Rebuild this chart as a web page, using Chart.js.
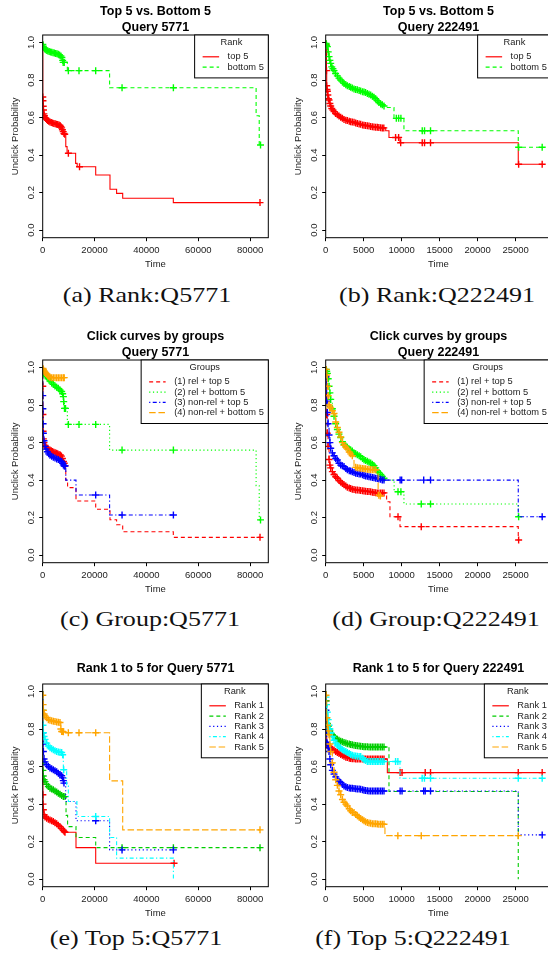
<!DOCTYPE html>
<html><head><meta charset="utf-8">
<script src="https://cdn.jsdelivr.net/npm/chart.js@4"></script>
<style>
html,body{margin:0;padding:0;background:#fff;}
body{width:548px;height:963px;overflow:hidden;position:relative;}
canvas{position:absolute;}
.cap{position:absolute;white-space:nowrap;font-family:"Liberation Serif",serif;font-size:21.5px;line-height:1;color:#111;transform:translateX(-50%) scaleX(1.21);}
</style></head><body>
<canvas id="pa" width="274" height="272" style="left:0;top:0;width:274px;height:272px"></canvas>
<canvas id="pb" width="300" height="272" style="left:274px;top:0;width:300px;height:272px"></canvas>
<canvas id="pc" width="274" height="272" style="left:0;top:325px;width:274px;height:272px"></canvas>
<canvas id="pd" width="300" height="272" style="left:274px;top:325px;width:300px;height:272px"></canvas>
<canvas id="pe" width="274" height="272" style="left:0;top:649px;width:274px;height:272px"></canvas>
<canvas id="pf" width="300" height="272" style="left:274px;top:649px;width:300px;height:272px"></canvas>
<div class="cap" style="left:147px;top:285px">(a) Rank:Q5771</div>
<div class="cap" style="left:437px;top:285px">(b) Rank:Q222491</div>
<div class="cap" style="left:150px;top:609px">(c) Group:Q5771</div>
<div class="cap" style="left:436px;top:609px">(d) Group:Q222491</div>
<div class="cap" style="left:136px;top:928px">(e) Top 5:Q5771</div>
<div class="cap" style="left:413px;top:928px">(f) Top 5:Q222491</div>
<script>
// ---------- tick labels ----------
const xTicks5771 = [0, 20000, 40000, 60000, 80000];
const xTicks222491 = [0, 5000, 10000, 15000, 20000, 25000];
const yTicks = [0, 0.2, 0.4, 0.6, 0.8, 1.0];

// ---------- titles / legends ----------
const titleA = ['Top 5 vs. Bottom 5', 'Query 5771'];
const titleB = ['Top 5 vs. Bottom 5', 'Query 222491'];
const titleC = ['Click curves by groups', 'Query 5771'];
const titleD = ['Click curves by groups', 'Query 222491'];
const titleE = 'Rank 1 to 5 for Query 5771';
const titleF = 'Rank 1 to 5 for Query 222491';
const twoLabels = ['top 5', 'bottom 5'];
const groupLabels = ['(1) rel + top 5', '(2) rel + bottom 5', '(3) non-rel + top 5', '(4) non-rel + bottom 5'];
const rankLabels = ['Rank 1', 'Rank 2', 'Rank 3', 'Rank 4', 'Rank 5'];

// ---------- survival series: [time, unclick probability, censored(1/0)] ----------
const a_top5 = [[0,1,0],[30,0.71,1],[100,0.69,1],[200,0.66,1],[300,0.64,1],[450,0.62,1],[650,0.61,1],[900,0.60,1],[1200,0.595,1],[1540,0.59,1],[1900,0.585,1],[2300,0.58,1],[2800,0.577,1],[3300,0.574,1],[3800,0.571,1],[4300,0.569,1],[4800,0.567,1],[5300,0.565,1],[5800,0.563,1],[6300,0.561,1],[6700,0.558,1],[7000,0.552,1],[7300,0.545,1],[7600,0.535,1],[7900,0.525,1],[8200,0.515,1],[8500,0.511,1],[8900,0.445,0],[9400,0.41,0],[9900,0.41,1],[12700,0.356,0],[13300,0.338,0],[14200,0.338,1],[20440,0.294,0],[25950,0.218,0],[28500,0.196,0],[30850,0.17,0],[50370,0.147,0],[83800,0.147,1]];
const a_bot5 = [[0,1,0],[50,0.99,1],[200,0.98,1],[450,0.972,1],[800,0.966,1],[1200,0.962,1],[1600,0.958,1],[2000,0.955,1],[2500,0.952,1],[3000,0.95,1],[3500,0.948,1],[4000,0.946,1],[4500,0.944,1],[5000,0.942,1],[5500,0.94,1],[6000,0.938,1],[6500,0.934,1],[7000,0.928,1],[7400,0.92,1],[7700,0.905,1],[7900,0.894,1],[8300,0.894,1],[9500,0.85,0],[9900,0.85,1],[14000,0.85,1],[20430,0.85,1],[25800,0.759,0],[30600,0.759,1],[50400,0.759,1],[82300,0.61,0],[83500,0.454,0],[84000,0.454,1]];

const b_top5 = [[0,1,0],[30,0.99,1],[60,0.95,1],[100,0.85,1],[130,0.77,1],[170,0.75,1],[219,0.74,1],[280,0.72,1],[350,0.70,1],[439,0.694,1],[550,0.675,1],[658,0.662,1],[800,0.648,1],[950,0.64,1],[1096,0.632,1],[1300,0.622,1],[1535,0.615,1],[1750,0.608,1],[1974,0.602,1],[2200,0.596,1],[2412,0.59,1],[2650,0.586,1],[2851,0.585,1],[3100,0.58,1],[3290,0.578,1],[3500,0.576,1],[3728,0.575,1],[3950,0.571,1],[4167,0.568,1],[4400,0.566,1],[4605,0.564,1],[4850,0.561,1],[5044,0.559,1],[5250,0.558,1],[5482,0.557,1],[5700,0.555,1],[5921,0.553,1],[6150,0.551,1],[6360,0.55,1],[6580,0.549,1],[6798,0.548,1],[7000,0.547,1],[7237,0.546,1],[7450,0.545,1],[7650,0.545,1],[7900,0.53,0],[8330,0.494,0],[9200,0.494,1],[9600,0.494,1],[9780,0.466,0],[9870,0.466,1],[12710,0.466,1],[13010,0.466,1],[13800,0.466,1],[25350,0.351,0],[25400,0.351,1],[28500,0.351,1]];
const b_bot5 = [[0,1,0],[50,0.995,1],[120,0.985,1],[219,0.978,1],[330,0.95,1],[439,0.925,1],[550,0.905,1],[658,0.889,1],[800,0.87,1],[950,0.86,1],[1096,0.85,1],[1300,0.835,1],[1535,0.822,1],[1750,0.81,1],[1974,0.80,1],[2200,0.79,1],[2412,0.782,1],[2650,0.775,1],[2851,0.77,1],[3100,0.765,1],[3290,0.762,1],[3500,0.757,1],[3728,0.752,1],[3950,0.75,1],[4167,0.748,1],[4400,0.744,1],[4605,0.741,1],[4850,0.738,1],[5044,0.736,1],[5250,0.733,1],[5482,0.728,1],[5700,0.724,1],[5921,0.72,1],[6150,0.714,1],[6360,0.708,1],[6580,0.70,1],[6798,0.69,1],[7000,0.68,1],[7237,0.673,1],[7450,0.668,1],[7675,0.662,1],[7800,0.654,0],[8990,0.596,0],[9300,0.596,1],[9600,0.596,1],[9900,0.596,1],[10300,0.53,0],[12710,0.53,1],[13010,0.53,1],[13800,0.53,1],[25350,0.442,0],[25400,0.442,1],[28500,0.442,1]];

const c_g1 = [[0,1,0],[30,0.9,1],[80,0.75,1],[150,0.66,1],[257,0.62,1],[500,0.6,1],[900,0.585,1],[1300,0.576,1],[1700,0.57,1],[2200,0.565,1],[2800,0.56,1],[3300,0.556,1],[3800,0.552,1],[4300,0.549,1],[4800,0.546,1],[5300,0.543,1],[5800,0.54,1],[6300,0.537,1],[6800,0.534,1],[7200,0.528,1],[7600,0.515,1],[8000,0.5,1],[8300,0.49,1],[8600,0.477,1],[8900,0.40,0],[9600,0.36,0],[12840,0.289,0],[20440,0.245,0],[25950,0.189,0],[28500,0.162,0],[30850,0.125,0],[50370,0.095,0],[83800,0.095,1]];
const c_g2 = [[0,1,0],[60,0.985,1],[257,0.975,1],[600,0.968,1],[1000,0.96,1],[1540,0.951,1],[2100,0.94,1],[2800,0.928,1],[3460,0.918,1],[4100,0.91,1],[4740,0.902,1],[5390,0.895,1],[6030,0.889,1],[6670,0.88,1],[7315,0.872,1],[7700,0.86,1],[7960,0.845,1],[8100,0.818,1],[8400,0.782,1],[8800,0.782,1],[9500,0.697,0],[9890,0.697,1],[14000,0.697,1],[20430,0.697,1],[25800,0.56,0],[30600,0.56,1],[50400,0.56,1],[82300,0.37,0],[83500,0.188,0],[84000,0.188,1]];
const c_g3 = [[0,1,0],[20,0.85,1],[60,0.78,1],[150,0.70,1],[257,0.65,1],[500,0.61,1],[900,0.58,1],[1300,0.565,1],[1800,0.551,1],[2300,0.54,1],[2815,0.533,1],[3460,0.527,1],[4100,0.522,1],[4740,0.518,1],[5390,0.513,1],[6030,0.51,1],[6670,0.505,1],[7315,0.499,1],[7700,0.49,1],[7960,0.481,1],[8300,0.475,1],[8600,0.475,1],[8900,0.40,0],[12840,0.321,0],[20430,0.321,1],[25800,0.214,0],[30600,0.214,1],[50400,0.214,1]];
const c_g4 = [[0,1,0],[100,0.995,1],[257,0.99,1],[600,0.98,1],[900,0.975,1],[1200,0.97,1],[1540,0.965,1],[1900,0.958,1],[2200,0.953,1],[2600,0.95,1],[2815,0.948,1],[3460,0.946,1],[4100,0.946,1],[4740,0.946,1],[5390,0.946,1],[6030,0.946,1],[6670,0.946,1],[7315,0.946,1],[7960,0.946,1],[8300,0.946,1]];

const d_g1 = [[0,1,0],[30,0.95,1],[80,0.85,1],[132,0.75,1],[200,0.65,1],[307,0.58,1],[439,0.51,1],[550,0.48,1],[658,0.465,1],[877,0.445,1],[1096,0.43,1],[1316,0.418,1],[1535,0.41,1],[1750,0.398,1],[1974,0.39,1],[2200,0.382,1],[2412,0.375,1],[2650,0.368,1],[2851,0.362,1],[3100,0.358,1],[3290,0.356,1],[3500,0.352,1],[3728,0.35,1],[3950,0.348,1],[4167,0.347,1],[4400,0.346,1],[4605,0.345,1],[4850,0.343,1],[5044,0.342,1],[5250,0.341,1],[5482,0.34,1],[5700,0.339,1],[5921,0.338,1],[6150,0.336,1],[6360,0.334,1],[6580,0.333,1],[6798,0.332,1],[7000,0.332,1],[7237,0.332,1],[7450,0.332,1],[7675,0.332,1],[8020,0.285,0],[8460,0.205,0],[9520,0.205,1],[9780,0.152,0],[12580,0.152,1],[25350,0.081,0],[25400,0.081,1]];
const d_g2 = [[0,1,0],[60,0.99,1],[132,0.98,1],[219,0.969,1],[330,0.94,1],[439,0.90,1],[550,0.865,1],[658,0.83,1],[877,0.78,1],[1096,0.74,1],[1316,0.70,1],[1535,0.67,1],[1750,0.645,1],[1974,0.627,1],[2200,0.605,1],[2412,0.59,1],[2650,0.582,1],[2851,0.575,1],[3100,0.565,1],[3290,0.56,1],[3500,0.555,1],[3728,0.545,1],[3950,0.54,1],[4167,0.535,1],[4400,0.53,1],[4605,0.525,1],[4850,0.515,1],[5044,0.509,1],[5250,0.505,1],[5482,0.50,1],[5700,0.495,1],[5921,0.491,1],[6150,0.485,1],[6360,0.477,1],[6580,0.465,1],[6798,0.45,1],[7000,0.44,1],[7237,0.43,1],[7450,0.42,1],[7675,0.41,1],[7900,0.40,0],[9010,0.338,0],[9520,0.338,1],[9900,0.338,1],[10300,0.273,0],[12580,0.273,1],[13800,0.273,1],[25350,0.205,0],[25400,0.205,1]];
const d_g3 = [[0,1,0],[30,0.95,1],[80,0.9,1],[132,0.82,1],[219,0.76,1],[307,0.70,1],[439,0.64,1],[550,0.60,1],[658,0.57,1],[877,0.545,1],[1096,0.53,1],[1316,0.515,1],[1535,0.507,1],[1750,0.49,1],[1974,0.48,1],[2200,0.476,1],[2412,0.472,1],[2650,0.462,1],[2851,0.455,1],[3100,0.45,1],[3290,0.448,1],[3500,0.444,1],[3728,0.44,1],[3950,0.437,1],[4167,0.435,1],[4400,0.433,1],[4605,0.432,1],[4850,0.428,1],[5044,0.425,1],[5250,0.422,1],[5482,0.42,1],[5700,0.418,1],[5921,0.416,1],[6150,0.414,1],[6360,0.412,1],[6580,0.41,1],[6798,0.408,1],[7000,0.406,1],[7237,0.404,1],[7450,0.40,1],[7675,0.40,1],[9800,0.40,1],[10000,0.40,1],[12900,0.40,1],[13800,0.40,1],[25350,0.205,0],[28500,0.205,1]];
const d_g4 = [[0,1,0],[60,0.99,1],[132,0.96,1],[219,0.9,1],[330,0.85,1],[439,0.80,1],[550,0.79,1],[658,0.785,1],[877,0.77,1],[1096,0.755,1],[1316,0.71,1],[1535,0.68,1],[1750,0.655,1],[1974,0.63,1],[2200,0.6,1],[2412,0.585,1],[2650,0.575,1],[2851,0.565,1],[3100,0.55,1],[3290,0.54,1],[3500,0.53,1],[3728,0.47,0],[3950,0.468,1],[4167,0.466,1],[4400,0.465,1],[4605,0.463,1],[4850,0.462,1],[5044,0.46,1],[5250,0.46,1],[5482,0.458,1],[5700,0.457,1],[5921,0.456,1],[6150,0.455,1],[6360,0.455,1],[6600,0.455,1],[6900,0.32,0],[7000,0.32,1],[7200,0.315,1]];

const e_r1 = [[0,1,0],[20,0.52,1],[60,0.45,1],[120,0.40,1],[257,0.37,1],[515,0.343,1],[900,0.332,1],[1540,0.325,1],[2180,0.32,1],[2815,0.316,1],[3460,0.311,1],[4100,0.307,1],[4740,0.301,1],[5390,0.295,1],[6030,0.288,1],[6670,0.28,1],[7315,0.27,1],[7960,0.261,1],[8300,0.254,1],[8600,0.25,1],[12840,0.168,0],[20440,0.085,0],[50650,0.085,1]];
const e_r2 = [[0,1,0],[20,0.62,1],[80,0.58,1],[200,0.55,1],[500,0.53,1],[900,0.52,1],[1540,0.505,1],[2180,0.494,1],[2815,0.485,1],[3460,0.48,1],[4100,0.476,1],[4740,0.47,1],[5390,0.465,1],[6030,0.458,1],[6670,0.452,1],[7315,0.446,1],[7960,0.44,1],[8600,0.44,1],[9000,0.34,0],[9600,0.28,0],[12840,0.222,0],[20440,0.168,0],[30600,0.168,1],[50400,0.168,1],[83800,0.168,1]];
const e_r3 = [[0,1,0],[20,0.78,1],[80,0.72,1],[257,0.68,1],[515,0.64,1],[900,0.625,1],[1540,0.61,1],[2180,0.6,1],[2815,0.593,1],[3460,0.588,1],[4100,0.583,1],[4740,0.578,1],[5390,0.572,1],[6030,0.565,1],[6670,0.558,1],[7315,0.551,1],[7700,0.54,1],[7960,0.525,1],[8200,0.512,1],[8860,0.414,0],[12840,0.311,0],[20440,0.311,1],[25800,0.156,0],[30600,0.156,1],[50400,0.156,1]];
const e_r4 = [[0,1,0],[20,0.9,1],[100,0.82,1],[257,0.78,1],[515,0.76,1],[900,0.745,1],[1540,0.725,1],[2180,0.71,1],[2815,0.7,1],[3460,0.695,1],[4100,0.69,1],[4740,0.685,1],[5390,0.68,1],[6030,0.678,1],[6670,0.676,1],[7315,0.675,1],[7700,0.663,1],[7960,0.583,0],[8100,0.583,1],[9240,0.497,0],[9890,0.414,0],[13200,0.334,0],[20440,0.334,1],[25800,0.222,0],[28500,0.112,0],[50400,0.0,0]];
const e_r5 = [[0,1,0],[40,0.98,1],[150,0.93,1],[257,0.9,1],[515,0.88,1],[900,0.87,1],[1540,0.86,1],[2180,0.85,1],[2815,0.847,1],[3460,0.844,1],[4100,0.842,1],[4740,0.84,1],[5390,0.838,1],[6030,0.836,1],[6670,0.835,1],[7000,0.8,1],[7315,0.787,1],[7600,0.787,1],[7960,0.785,1],[8300,0.78,0],[9890,0.78,1],[14000,0.78,1],[20440,0.78,1],[25800,0.524,0],[30850,0.263,0],[83800,0.263,1]];

const f_r1 = [[0,1,0],[30,0.95,1],[80,0.85,1],[132,0.725,1],[219,0.717,1],[330,0.71,1],[439,0.705,1],[550,0.70,1],[658,0.698,1],[877,0.692,1],[1096,0.688,1],[1316,0.68,1],[1535,0.675,1],[1750,0.67,1],[1974,0.665,1],[2200,0.66,1],[2412,0.655,1],[2650,0.65,1],[2851,0.648,1],[3100,0.645,1],[3290,0.643,1],[3500,0.642,1],[3728,0.642,1],[3950,0.641,1],[4167,0.641,1],[4400,0.641,1],[4605,0.641,1],[4850,0.641,1],[5044,0.641,1],[5250,0.641,1],[5482,0.641,1],[5700,0.641,1],[5921,0.64,1],[6150,0.64,1],[6360,0.64,1],[6580,0.64,1],[6798,0.64,1],[7000,0.64,1],[7237,0.64,1],[7450,0.64,1],[7675,0.64,1],[8114,0.568,0],[9800,0.568,1],[10050,0.568,1],[13100,0.568,1],[13800,0.568,1],[25350,0.568,1],[28500,0.568,1]];
const f_r2 = [[0,1,0],[50,0.95,1],[132,0.86,1],[219,0.83,1],[330,0.815,1],[439,0.80,1],[550,0.79,1],[658,0.78,1],[877,0.77,1],[1096,0.76,1],[1316,0.75,1],[1535,0.745,1],[1750,0.74,1],[1974,0.735,1],[2200,0.732,1],[2412,0.728,1],[2650,0.725,1],[2851,0.722,1],[3100,0.72,1],[3290,0.718,1],[3500,0.716,1],[3728,0.714,1],[3950,0.712,1],[4167,0.711,1],[4400,0.709,1],[4605,0.708,1],[4850,0.707,1],[5044,0.706,1],[5250,0.705,1],[5482,0.705,1],[5700,0.704,1],[5921,0.704,1],[6150,0.704,1],[6360,0.704,1],[6580,0.704,1],[6798,0.704,1],[7000,0.704,1],[7237,0.704,1],[7450,0.704,1],[7675,0.704,1],[8330,0.467,0],[25350,0.0,0]];
const f_r3 = [[0,1,0],[30,0.9,1],[80,0.78,1],[132,0.73,1],[219,0.72,1],[330,0.70,1],[439,0.68,1],[550,0.64,1],[658,0.61,1],[877,0.58,1],[1096,0.56,1],[1316,0.545,1],[1535,0.532,1],[1750,0.522,1],[1974,0.515,1],[2200,0.505,1],[2412,0.497,1],[2650,0.492,1],[2851,0.488,1],[3100,0.486,1],[3290,0.485,1],[3500,0.484,1],[3728,0.483,1],[3950,0.482,1],[4167,0.481,1],[4400,0.48,1],[4605,0.479,1],[4850,0.476,1],[5044,0.474,1],[5250,0.472,1],[5482,0.471,1],[5700,0.47,1],[5921,0.47,1],[6150,0.47,1],[6360,0.47,1],[6580,0.47,1],[6798,0.47,1],[7000,0.47,1],[7237,0.47,1],[7450,0.47,1],[7675,0.47,1],[9800,0.47,1],[10050,0.47,1],[12900,0.47,1],[13100,0.47,1],[13800,0.47,1],[25350,0.236,0],[28500,0.236,1]];
const f_r4 = [[0,1,0],[40,0.97,1],[100,0.93,1],[219,0.89,1],[330,0.85,1],[439,0.82,1],[550,0.80,1],[658,0.78,1],[877,0.76,1],[1096,0.74,1],[1316,0.725,1],[1535,0.715,1],[1750,0.705,1],[1974,0.698,1],[2200,0.69,1],[2412,0.685,1],[2650,0.68,1],[2851,0.675,1],[3100,0.67,1],[3290,0.665,1],[3500,0.66,1],[3728,0.658,1],[3950,0.656,1],[4167,0.655,1],[4400,0.654,1],[4605,0.654,1],[4850,0.645,1],[5044,0.636,1],[5250,0.632,1],[5482,0.627,1],[5700,0.627,1],[5921,0.627,1],[6150,0.627,1],[6360,0.627,1],[6580,0.627,1],[6798,0.627,1],[7000,0.627,1],[7237,0.627,1],[7450,0.627,1],[7675,0.627,1],[9200,0.627,1],[9500,0.627,1],[9780,0.538,0],[12700,0.538,1],[13000,0.538,1],[13800,0.538,1],[25350,0.538,1],[28500,0.538,1]];
const f_r5 = [[0,1,0],[40,0.98,1],[132,0.86,1],[219,0.82,1],[330,0.79,1],[439,0.77,1],[550,0.72,1],[658,0.68,1],[877,0.62,1],[1096,0.57,1],[1316,0.53,1],[1535,0.50,1],[1750,0.47,1],[1974,0.45,1],[2200,0.425,1],[2412,0.41,1],[2650,0.40,1],[2851,0.39,1],[3100,0.375,1],[3290,0.365,1],[3500,0.355,1],[3728,0.355,1],[3950,0.345,1],[4167,0.338,1],[4400,0.33,1],[4605,0.323,1],[4850,0.317,1],[5044,0.311,1],[5250,0.306,1],[5482,0.302,1],[5700,0.3,1],[5921,0.298,1],[6150,0.296,1],[6360,0.296,1],[6580,0.295,1],[6798,0.294,1],[7000,0.293,1],[7237,0.293,1],[7450,0.293,1],[7675,0.293,1],[7800,0.232,0],[9500,0.232,1],[12580,0.232,1],[25350,0.232,1]];

// ---------- styles ----------
const twoStyles = [{color:'#FF0000', dash:[]}, {color:'#00FF00', dash:[4,3]}];
const groupStyles = [{color:'#FF0000', dash:[4,3]}, {color:'#00FF00', dash:[1.2,2.6]}, {color:'#0000FF', dash:[1.2,2.4,4,2.4]}, {color:'#FFA500', dash:[6.5,2.8]}];
const rankStyles = [{color:'#FF0000', dash:[]}, {color:'#00CD00', dash:[4,3]}, {color:'#0000FF', dash:[1.2,2.6]}, {color:'#00FFFF', dash:[1.2,2.4,4,2.4]}, {color:'#FFA500', dash:[6.5,2.8]}];

const SANS = "'Liberation Sans', Arial, sans-serif";
const INK = '#222';

const rFrameLegend = {
  id: 'rFrameLegend',
  afterDatasetsDraw(chart, args, opts) {
    const ctx = chart.ctx, a = chart.chartArea;
    ctx.save();
    ctx.setLineDash([]);
    ctx.strokeStyle = '#000';
    ctx.lineWidth = 1;
    ctx.strokeRect(a.left, a.top, a.right - a.left, a.bottom - a.top);
    const ds = chart.data.datasets;
    ctx.font = '9.3px ' + SANS;
    let tw = 0;
    ds.forEach(d => { tw = Math.max(tw, ctx.measureText(d.label).width); });
    const w = 33 + tw + 4.5;
    const h = 21.8 + (ds.length - 1) * 10.3 + 10.8;
    const x0 = a.right - w, y0 = a.top;
    ctx.fillStyle = '#fff';
    ctx.fillRect(x0, y0, w, h);
    ctx.strokeStyle = '#000';
    ctx.strokeRect(x0, y0, w, h);
    ctx.fillStyle = INK;
    ctx.textBaseline = 'middle';
    ctx.textAlign = 'center';
    ctx.fillText(opts.title, x0 + w / 2, y0 + 7.8);
    ctx.textAlign = 'left';
    ds.forEach((d, i) => {
      const yy = y0 + 21.8 + i * 10.3;
      ctx.save();
      ctx.strokeStyle = d.borderColor;
      ctx.lineWidth = 1.2;
      ctx.setLineDash(d.borderDash || []);
      ctx.beginPath();
      ctx.moveTo(x0 + 8, yy);
      ctx.lineTo(x0 + 24.5, yy);
      ctx.stroke();
      ctx.restore();
      ctx.fillStyle = INK;
      ctx.fillText(d.label, x0 + 33, yy);
    });
    ctx.restore();
  }
};

function survDatasets(series, labels, styles) {
  return series.map((s, i) => ({
    label: labels[i],
    data: s.map(p => ({x: p[0], y: p[1]})),
    stepped: true,
    borderColor: styles[i].color,
    backgroundColor: styles[i].color,
    borderWidth: 1.1,
    borderDash: styles[i].dash,
    pointStyle: 'cross',
    pointRadius: s.map(p => p[2] ? 3.5 : 0),
    pointHoverRadius: 0,
    pointBorderColor: styles[i].color,
    pointBorderWidth: 1.4,
    fill: false,
    tension: 0,
    order: -i
  }));
}

function makeChart(id, title, series, labels, styles, legendTitle, xTicks, xMax, leftPad, rightPad) {
  const twoLine = Array.isArray(title);
  new Chart(document.getElementById(id), {
    type: 'line',
    data: {datasets: survDatasets(series, labels, styles)},
    plugins: [rFrameLegend],
    options: {
      responsive: false,
      animation: false,
      events: [],
      layout: {padding: {left: leftPad, right: rightPad, top: 0, bottom: 1.3}},
      plugins: {
        legend: {display: false},
        tooltip: {enabled: false},
        title: {
          display: true, text: title, fullSize: false, color: '#000',
          font: {family: SANS, size: 12.5, weight: 'bold', lineHeight: 1.264},
          padding: twoLine ? {top: 3.4, bottom: 0} : {top: 11.6, bottom: 7.6}
        },
        rFrameLegend: {title: legendTitle}
      },
      scales: {
        x: {
          type: 'linear', min: 0, max: xMax,
          afterBuildTicks: s => { s.ticks = xTicks.map(v => ({value: v})); },
          afterFit: s => { s.height = 33; },
          ticks: {font: {family: SANS, size: 9.5}, color: INK, padding: 3.2, maxRotation: 0, minRotation: 0, autoSkip: false, callback: v => String(v)},
          grid: {drawOnChartArea: false, drawTicks: true, tickLength: 3.5, color: '#000', lineWidth: 1},
          border: {display: false},
          title: {display: true, text: 'Time', color: INK, font: {family: SANS, size: 9.5}, padding: {top: 0, bottom: 1}}
        },
        y: {
          type: 'linear', min: -0.04, max: 1.04,
          afterBuildTicks: s => { s.ticks = yTicks.map(v => ({value: v})); },
          afterFit: s => { s.width = 42.7; },
          ticks: {font: {family: SANS, size: 9.5}, color: INK, padding: 0.9, minRotation: 90, maxRotation: 90, crossAlign: 'center', autoSkip: false, callback: v => v.toFixed(1)},
          grid: {drawOnChartArea: false, drawTicks: true, tickLength: 3.5, color: '#000', lineWidth: 1},
          border: {display: false},
          title: {display: true, text: 'Unclick Probability', color: INK, font: {family: SANS, size: 9.5}, padding: {top: 9.3, bottom: 0}}
        }
      }
    }
  });
}

makeChart('pa', titleA, [a_top5, a_bot5], twoLabels, twoStyles, 'Rank', xTicks5771, 87000, 0, 5.7);
makeChart('pb', titleB, [b_top5, b_bot5], twoLabels, twoStyles, 'Rank', xTicks222491, 29700, 9, 22.7);
makeChart('pc', titleC, [c_g1, c_g2, c_g3, c_g4], groupLabels, groupStyles, 'Groups', xTicks5771, 87000, 0, 5.7);
makeChart('pd', titleD, [d_g1, d_g2, d_g3, d_g4], groupLabels, groupStyles, 'Groups', xTicks222491, 29700, 9, 22.7);
makeChart('pe', titleE, [e_r1, e_r2, e_r3, e_r4, e_r5], rankLabels, rankStyles, 'Rank', xTicks5771, 87000, 0, 5.7);
makeChart('pf', titleF, [f_r1, f_r2, f_r3, f_r4, f_r5], rankLabels, rankStyles, 'Rank', xTicks222491, 29700, 9, 22.7);
</script>
</body></html>
